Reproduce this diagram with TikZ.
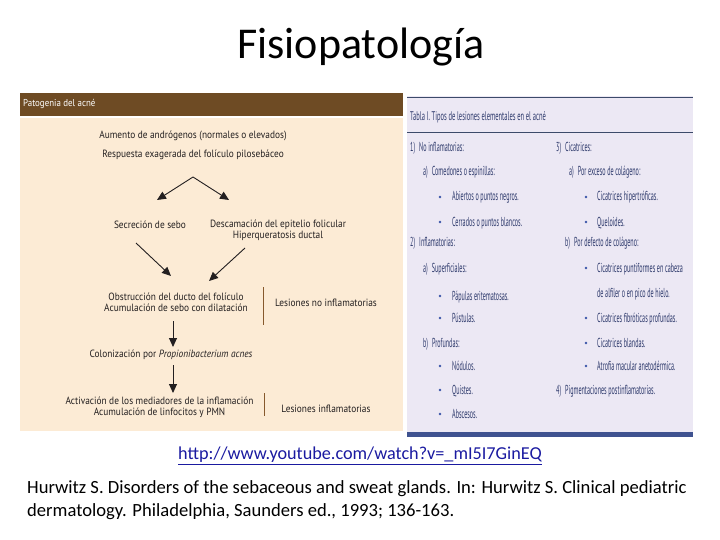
\documentclass[tikz,border=0pt]{standalone}
\usepackage{fontspec}
\setmainfont{Carlito}
\newfontfamily\flowfont[FakeStretch=0.89]{PT Sans}
\newfontfamily\tabfont[FakeStretch=0.47]{PT Sans}
\newfontfamily\tabtitlefont[FakeStretch=0.52]{PT Sans}
\usetikzlibrary{arrows.meta}
\definecolor{brownbar}{HTML}{6E4B24}
\definecolor{cream}{HTML}{FCEBD5}
\definecolor{lav}{HTML}{ECE8F4}
\definecolor{navyline}{HTML}{3C4A6A}
\definecolor{navythick}{HTML}{3F5290}
\definecolor{tabtext}{HTML}{2E3A6C}
\definecolor{bulletc}{HTML}{3A55A8}
\definecolor{linkc}{HTML}{1A1AA0}
\definecolor{flowtext}{HTML}{231F20}
\tikzset{
  flow/.style={font=\flowfont\fontsize{10.5}{11.5}\selectfont, text=flowtext, align=center, inner sep=0pt},
  tab/.style={font=\tabfont\fontsize{13}{15}\selectfont, text=tabtext, anchor=base west, inner sep=0pt},
  bul/.style={circle, fill=bulletc, inner sep=0pt, minimum size=2.6pt},
  farrow/.style={-{Triangle[length=9pt,width=8pt]}, line width=0.9pt, draw=flowtext},
  sepline/.style={draw=brown!70!black, line width=0.8pt}
}
\begin{document}
\begin{tikzpicture}[x=1pt,y=-1pt]
\useasboundingbox (0,0) rectangle (720,540);
% title
\node[font=\fontsize{44}{48}\selectfont, inner sep=0pt] (title) at (361,47) {Fisiopatología};
% left panel
\fill[brownbar] (20,93) rectangle (403,116);
\fill[cream] (20,118) rectangle (403,431);
\node[font=\flowfont\fontsize{10}{12}\selectfont, text=white, anchor=west, inner sep=0pt] (pat) at (23,104) {Patogenia del acné};
\node[flow] (n1) at (193,136) {Aumento de andrógenos (normales o elevados)};
\node[flow] (n2) at (193,155) {Respuesta exagerada del folículo pilosebáceo};
\node[flow] (n3) at (150,225) {Secreción de sebo};
\node[flow] (n4) at (278,230.5) {Descamación del epitelio folicular\\Hiperqueratosis ductal};
\node[flow] (n5) at (176,302.5) {Obstrucción del ducto del folículo\\Acumulación de sebo con dilatación};
\node[flow] (n6) at (326,303) {Lesiones no inflamatorias};
\node[flow] (n7) at (171,355) {Colonización por \textit{Propionibacterium acnes}};
\node[flow] (n8) at (159.5,407.5) {Activación de los mediadores de la inflamación\\Acumulación de linfocitos y PMN};
\node[flow] (n9) at (326,409) {Lesiones inflamatorias};
\coordinate (apex) at (193,177);
\coordinate (a1e) at (157,200);
\coordinate (a2e) at (229,200);
\coordinate (a3s) at (136,243);
\coordinate (a3e) at (171,276);
\coordinate (a4s) at (245,248);
\coordinate (a4e) at (209,281);
\coordinate (a5s) at (173,321);
\coordinate (a5e) at (173,347);
\coordinate (a6s) at (173,365);
\coordinate (a6e) at (173,393);
\draw[farrow] (apex) -- (a1e);
\draw[farrow] (apex) -- (a2e);
\draw[farrow] (a3s) -- (a3e);
\draw[farrow] (a4s) -- (a4e);
\draw[farrow] (a5s) -- (a5e);
\draw[farrow] (a6s) -- (a6e);
\coordinate (v1t) at (263,287);
\coordinate (v1b) at (263,325);
\coordinate (v2t) at (264,393);
\coordinate (v2b) at (264,416);
\draw[sepline] (v1t) -- (v1b);
\draw[sepline] (v2t) -- (v2b);
% right panel
\fill[lav] (407,96) rectangle (693,433);
\coordinate (l1a) at (407,97.5);
\coordinate (l1b) at (693,97.5);
\coordinate (l2a) at (407,133);
\coordinate (l2b) at (693,133);
\draw[navyline, line width=1pt] (l1a) -- (l1b);
\draw[navyline, line width=1pt] (l2a) -- (l2b);
\fill[navythick] (407,432) rectangle (693,437);
\node[tab, font=\tabtitlefont\fontsize{12.5}{14}\selectfont] (tt) at (410,121) {Tabla I. Tipos de lesiones elementales en el acné};
% left column
\node[tab] (r1) at (410,152) {1)\hspace{4pt}No inflamatorias:};
\node[tab] (r2) at (423,176) {a)\hspace{4pt}Comedones o espinillas:};
\node[bul] (b1) at (440,197) {};
\node[tab] (r3) at (452,201) {Abiertos o puntos negros.};
\node[bul] (b2) at (440,222) {};
\node[tab] (r4) at (452,226) {Cerrados o puntos blancos.};
\node[tab] (r5) at (410,247) {2)\hspace{4pt}Inflamatorias:};
\node[tab] (r6) at (423,272) {a)\hspace{4pt}Superficiales:};
\node[bul] (b3) at (440,296) {};
\node[tab] (r7) at (452,300) {Pápulas eritematosas.};
\node[bul] (b4) at (440,318) {};
\node[tab] (r8) at (452,322) {Pústulas.};
\node[tab] (r9) at (423,347) {b)\hspace{4pt}Profundas:};
\node[bul] (b5) at (440,366) {};
\node[tab] (r10) at (452,370) {Nódulos.};
\node[bul] (b6) at (440,390) {};
\node[tab] (r11) at (452,394) {Quistes.};
\node[bul] (b7) at (440,414) {};
\node[tab] (r12) at (452,418) {Abscesos.};
% right column
\node[tab] (s1) at (556,152) {3)\hspace{4pt}Cicatrices:};
\node[tab] (s2) at (569,176) {a)\hspace{4pt}Por exceso de colágeno:};
\node[bul] (c1) at (586,197) {};
\node[tab] (s3) at (597,201) {Cicatrices hipertróficas.};
\node[bul] (c2) at (586,222) {};
\node[tab] (s4) at (597,226) {Queloides.};
\node[tab] (s5) at (565,247) {b)\hspace{4pt}Por defecto de colágeno:};
\node[bul] (c3) at (586,268) {};
\node[tab] (s6) at (597,272) {Cicatrices puntiformes en cabeza};
\node[tab] (s7) at (597,297) {de alfiler o en pico de hielo.};
\node[bul] (c4) at (586,318) {};
\node[tab] (s8) at (597,322) {Cicatrices fibróticas profundas.};
\node[bul] (c5) at (586,343) {};
\node[tab] (s9) at (597,347) {Cicatrices blandas.};
\node[bul] (c6) at (586,366) {};
\node[tab] (s10) at (597,370) {Atrofia macular anetodérmica.};
\node[tab] (s11) at (556,394) {4)\hspace{4pt}Pigmentaciones postinflamatorias.};
% references
\node[font=\fontsize{18.2}{20}\selectfont, text=linkc, inner sep=0pt] (url) at (360,456) {\underline{http://www.youtube.com/watch?v=\_mI5I7GinEQ}};
\node[font=\fontsize{18.6}{23}\selectfont, align=left, anchor=north west, inner sep=0pt] (ref) at (27,480) {Hurwitz S. Disorders of the sebaceous and sweat glands. In: Hurwitz S. Clinical pediatric\\dermatology. Philadelphia, Saunders ed., 1993; 136-163.};
\end{tikzpicture}
\end{document}
